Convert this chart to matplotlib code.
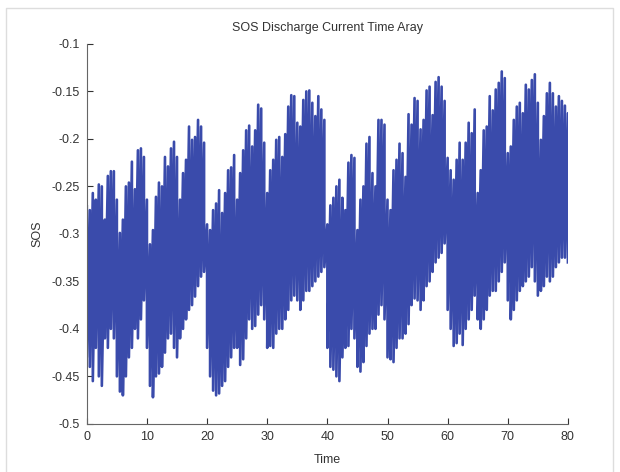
import matplotlib
matplotlib.use("Agg")
import matplotlib.pyplot as plt
import numpy as np

# time samples every 0.5
time = np.arange(0, 80.5, 0.5)

# upper edge of the signal at each time sample
upper = [
    -0.271, -0.275, -0.257, -0.264, -0.248, -0.250, -0.285, -0.239, -0.234, -0.234,
    -0.264, -0.299, -0.285, -0.250, -0.246, -0.224, -0.253, -0.212, -0.210, -0.219,
    -0.264, -0.311, -0.296, -0.261, -0.246, -0.250, -0.219, -0.229, -0.210, -0.203,
    -0.219, -0.264, -0.236, -0.222, -0.187, -0.201, -0.198, -0.180, -0.187, -0.204,
    -0.290, -0.296, -0.275, -0.268, -0.254, -0.278, -0.257, -0.233, -0.230, -0.217,
    -0.264, -0.236, -0.212, -0.191, -0.186, -0.208, -0.191, -0.164, -0.168, -0.204,
    -0.257, -0.233, -0.222, -0.201, -0.198, -0.219, -0.195, -0.166, -0.154, -0.155,
    -0.183, -0.187, -0.159, -0.150, -0.149, -0.162, -0.176, -0.155, -0.169, -0.180,
    -0.290, -0.270, -0.262, -0.250, -0.243, -0.262, -0.275, -0.225, -0.217, -0.220,
    -0.296, -0.264, -0.250, -0.205, -0.198, -0.236, -0.250, -0.180, -0.180, -0.185,
    -0.264, -0.275, -0.233, -0.222, -0.205, -0.215, -0.240, -0.174, -0.185, -0.157,
    -0.160, -0.190, -0.180, -0.149, -0.145, -0.175, -0.140, -0.135, -0.145, -0.160,
    -0.220, -0.233, -0.243, -0.222, -0.204, -0.222, -0.204, -0.183, -0.194, -0.169,
    -0.257, -0.233, -0.191, -0.187, -0.155, -0.170, -0.148, -0.141, -0.129, -0.136,
    -0.215, -0.208, -0.180, -0.166, -0.162, -0.173, -0.143, -0.148, -0.138, -0.132,
    -0.162, -0.201, -0.176, -0.152, -0.141, -0.152, -0.166, -0.155, -0.160, -0.165,
    -0.173,
]

# lower edge of the signal at each time sample
lower = [
    -0.430, -0.440, -0.455, -0.420, -0.450, -0.460, -0.410, -0.420, -0.400, -0.410,
    -0.450, -0.466, -0.470, -0.450, -0.430, -0.420, -0.400, -0.410, -0.390, -0.370,
    -0.420, -0.460, -0.472, -0.450, -0.447, -0.440, -0.425, -0.410, -0.405, -0.420,
    -0.430, -0.410, -0.400, -0.390, -0.380, -0.375, -0.366, -0.355, -0.345, -0.340,
    -0.420, -0.450, -0.465, -0.470, -0.468, -0.460, -0.455, -0.440, -0.430, -0.420,
    -0.420, -0.438, -0.432, -0.410, -0.390, -0.400, -0.397, -0.385, -0.375, -0.390,
    -0.420, -0.418, -0.420, -0.405, -0.400, -0.400, -0.390, -0.380, -0.370, -0.365,
    -0.370, -0.380, -0.370, -0.360, -0.360, -0.355, -0.350, -0.345, -0.340, -0.335,
    -0.420, -0.440, -0.443, -0.450, -0.455, -0.430, -0.420, -0.418, -0.400, -0.410,
    -0.440, -0.445, -0.435, -0.418, -0.405, -0.400, -0.400, -0.385, -0.375, -0.390,
    -0.430, -0.432, -0.435, -0.420, -0.410, -0.410, -0.405, -0.395, -0.375, -0.368,
    -0.370, -0.380, -0.370, -0.355, -0.350, -0.340, -0.330, -0.325, -0.320, -0.310,
    -0.380, -0.400, -0.418, -0.415, -0.405, -0.417, -0.400, -0.390, -0.380, -0.365,
    -0.390, -0.400, -0.390, -0.380, -0.365, -0.360, -0.360, -0.350, -0.340, -0.330,
    -0.370, -0.390, -0.380, -0.370, -0.360, -0.355, -0.350, -0.345, -0.335, -0.350,
    -0.365, -0.360, -0.355, -0.345, -0.350, -0.345, -0.335, -0.330, -0.325, -0.325,
    -0.330,
]

xticks = [0, 10, 20, 30, 40, 50, 60, 70, 80]
yticks = [-0.5, -0.45, -0.4, -0.35, -0.3, -0.25, -0.2, -0.15, -0.1]
ytick_labels = ["-0.5", "-0.45", "-0.4", "-0.35", "-0.3", "-0.25", "-0.2", "-0.15", "-0.1"]

plt.rcParams['font.family'] = ['Liberation Sans', 'DejaVu Sans']
plt.rcParams['axes.unicode_minus'] = False

fig = plt.figure(figsize=(6.2, 4.72), dpi=100)
ax = fig.add_axes([0.140, 0.102, 0.776, 0.805])

# signal swings between the edges at every sample
t = np.repeat(time, 2)
y = np.column_stack([upper, lower]).ravel()
ax.plot(t, y, color='#3a4bab', linewidth=1.9, solid_joinstyle='round')

ax.set_xlim(0, 80)
ax.set_ylim(-0.5, -0.1)
ax.set_xticks(xticks)
ax.set_yticks(yticks)
ax.set_yticklabels(ytick_labels)
ax.tick_params(direction='in', length=4, labelsize=9, colors='#333333', pad=5)
ax.spines['top'].set_visible(False)
ax.spines['right'].set_visible(False)
ax.spines['left'].set_color('#666666')
ax.spines['bottom'].set_color('#666666')

ax.set_title("SOS Discharge Current Time Aray", fontsize=9, color='#333333', pad=9)
ax.set_xlabel("Time", fontsize=9, color='#333333', labelpad=8)
ax.set_ylabel("SOS", fontsize=9, color='#333333', labelpad=6)

# light frame round the picture
fig.add_artist(plt.Line2D([0.009, 0.009, 0.988, 0.988], [0.0, 0.982, 0.982, 0.0],
                          transform=fig.transFigure, color='#dddddd', linewidth=1))

fig.savefig("out.png", dpi=100)
